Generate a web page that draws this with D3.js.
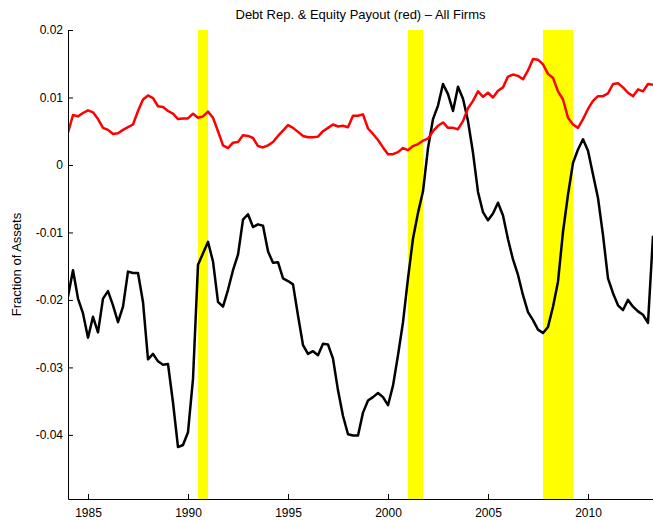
<!DOCTYPE html>
<html>
<head>
<meta charset="utf-8">
<script src="https://cdn.jsdelivr.net/npm/d3@7"></script>
<style>
  body { margin: 0; background: #fff; }
  svg text { font-family: 'Liberation Sans', Arial, Helvetica, sans-serif; fill: #000; }
</style>
</head>
<body>
<svg id="chart"></svg>
<script>
// quarterly data, first quarter 1984
var startYear = 1984;
var equityPayout = [   // red
  0.0048, 0.0074, 0.0072, 0.0077,
  0.0081, 0.0078, 0.0068, 0.0055,
  0.0052, 0.0046, 0.0047, 0.0052,
  0.0056, 0.0060, 0.0080, 0.0097,
  0.0103, 0.0099, 0.0087, 0.0086,
  0.0080, 0.0076, 0.0068, 0.0069,
  0.0069, 0.0076, 0.0070, 0.0072,
  0.0079, 0.0070, 0.0050, 0.0029,
  0.0025, 0.0033, 0.0034, 0.0044,
  0.0043, 0.0040, 0.0028, 0.0026,
  0.0029, 0.0034, 0.0043, 0.0051,
  0.0059, 0.0055, 0.0049, 0.0043,
  0.0041, 0.0041, 0.0042, 0.0050,
  0.0055, 0.0060, 0.0057, 0.0058,
  0.0056, 0.0073, 0.0073, 0.0075,
  0.0054, 0.0046, 0.0037, 0.0026,
  0.0016, 0.0016, 0.0019, 0.0025,
  0.0022, 0.0028, 0.0031, 0.0036,
  0.0039, 0.0050, 0.0058, 0.0063,
  0.0055, 0.0055, 0.0053, 0.0065,
  0.0084, 0.0095, 0.0109, 0.0101,
  0.0107, 0.0100, 0.0110, 0.0115,
  0.0131, 0.0134, 0.0132, 0.0127,
  0.0140, 0.0157, 0.0156, 0.0149,
  0.0135, 0.0129, 0.0109, 0.0097,
  0.0070, 0.0060, 0.0055, 0.0068,
  0.0083, 0.0095, 0.0102, 0.0102,
  0.0106, 0.0120, 0.0121, 0.0115,
  0.0107, 0.0102, 0.0112, 0.0109,
  0.0120, 0.0119
];
var debtRepayment = [  // black
  -0.0195, -0.0156, -0.0198, -0.0220,
  -0.0256, -0.0225, -0.0248, -0.0198,
  -0.0187, -0.0208, -0.0233, -0.0210,
  -0.0158, -0.0160, -0.0160, -0.0203,
  -0.0288, -0.0280, -0.0291, -0.0296,
  -0.0295, -0.0352, -0.0418, -0.0415,
  -0.0396, -0.0317, -0.0148, -0.0131,
  -0.0114, -0.0143, -0.0203, -0.0210,
  -0.0185, -0.0156, -0.0133, -0.0081,
  -0.0073, -0.0092, -0.0088, -0.0090,
  -0.0128, -0.0145, -0.0144, -0.0168,
  -0.0172, -0.0177, -0.0223, -0.0267,
  -0.0280, -0.0276, -0.0282, -0.0265,
  -0.0266, -0.0287, -0.0334, -0.0372,
  -0.0399, -0.0401, -0.0401, -0.0367,
  -0.0349, -0.0344, -0.0338, -0.0344,
  -0.0356, -0.0327, -0.0282, -0.0233,
  -0.0168, -0.0109, -0.0071, -0.0039,
  0.0025, 0.0068, 0.0088, 0.0120,
  0.0105, 0.0080, 0.0116, 0.0098,
  0.0065, 0.0018, -0.0040, -0.0070,
  -0.0082, -0.0072, -0.0056, -0.0075,
  -0.0110, -0.0140, -0.0163, -0.0193,
  -0.0218, -0.0230, -0.0244, -0.0249,
  -0.0240, -0.0210, -0.0173, -0.0099,
  -0.0044, 0.0003, 0.0023, 0.0038,
  0.0021, -0.0014, -0.0049, -0.0104,
  -0.0168, -0.0190, -0.0208, -0.0215,
  -0.0200, -0.0210, -0.0217, -0.0222,
  -0.0234, -0.0105
];
// recessions (start, end) in years
var recessions = [[1990.5, 1991.0], [2001.0, 2001.75], [2007.75, 2009.25]];
var xTicks = [1985, 1990, 1995, 2000, 2005, 2010];
var yTicks = [0.02, 0.01, 0, -0.01, -0.02, -0.03, -0.04];

var width = 653, height = 520;
var margin = {top: 30, right: 0, bottom: 21, left: 68};

var svg = d3.select("#chart").attr("width", width).attr("height", height);

var x = d3.scaleLinear().domain([1984, 2013.25]).range([margin.left, width - margin.right]);
var y = d3.scaleLinear().domain([-0.0495, 0.02]).range([height - margin.bottom, margin.top]);

svg.append("clipPath").attr("id", "clip")
  .append("rect")
  .attr("x", margin.left).attr("y", margin.top)
  .attr("width", width - margin.left - margin.right)
  .attr("height", height - margin.top - margin.bottom);

// recession bands
svg.append("g").selectAll("rect")
  .data(recessions)
  .enter().append("rect")
  .attr("x", function(d){ return x(d[0]); })
  .attr("width", function(d){ return x(d[1]) - x(d[0]); })
  .attr("y", margin.top)
  .attr("height", height - margin.top - margin.bottom)
  .attr("fill", "#ffff00");

var line = d3.line()
  .x(function(d, i){ return x(startYear + i / 4); })
  .y(function(d){ return y(d); });

var plot = svg.append("g").attr("clip-path", "url(#clip)");
plot.append("path")
  .datum(debtRepayment)
  .attr("d", line)
  .attr("fill", "none")
  .attr("stroke", "#000")
  .attr("stroke-width", 2.5)
  .attr("stroke-linejoin", "round");
plot.append("path")
  .datum(equityPayout)
  .attr("d", line)
  .attr("fill", "none")
  .attr("stroke", "#ff0000")
  .attr("stroke-width", 2.5)
  .attr("stroke-linejoin", "round");

// axes (ticks pointing inward, no box)
var xAxis = d3.axisTop(x).tickValues(xTicks).tickFormat(d3.format("d")).tickSize(5).tickSizeOuter(0);
var gx = svg.append("g")
  .attr("transform", "translate(0," + (height - margin.bottom) + ")")
  .call(xAxis);
gx.selectAll("text").attr("y", 18).attr("dy", 0).style("font-size", "12px");

var yAxis = d3.axisRight(y).tickValues(yTicks)
  .tickFormat(function(d){ return d === 0 ? "0" : d3.format(".2f")(d).replace("\u2212", "-"); })
  .tickSize(5).tickSizeOuter(0);
var gy = svg.append("g")
  .attr("transform", "translate(" + margin.left + ",0)")
  .call(yAxis);
gy.selectAll("text").attr("x", -5).attr("text-anchor", "end").style("font-size", "12px");

svg.selectAll(".domain").attr("stroke", "#000");
svg.selectAll(".tick line").attr("stroke", "#000");

svg.append("text")
  .attr("x", (margin.left + width) / 2)
  .attr("y", 19)
  .attr("text-anchor", "middle")
  .style("font-size", "13px")
  .text("Debt Rep. & Equity Payout (red) \u2013 All Firms");

svg.append("text")
  .attr("transform", "translate(21," + ((margin.top + height - margin.bottom) / 2) + ") rotate(-90)")
  .attr("text-anchor", "middle")
  .style("font-size", "13px")
  .text("Fraction of Assets");
</script>
</body>
</html>
